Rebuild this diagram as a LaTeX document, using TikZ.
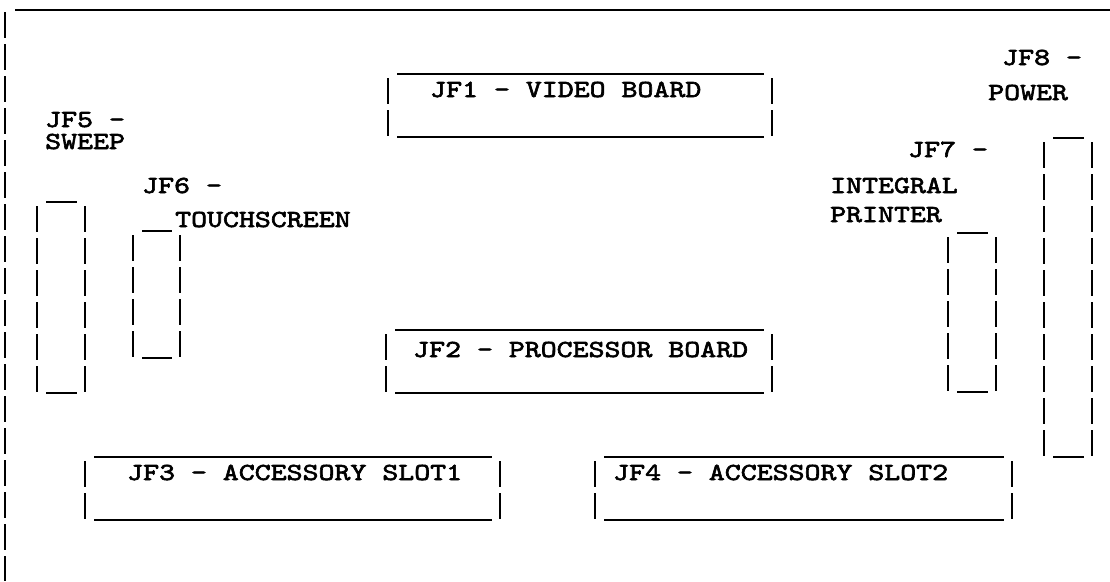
\documentclass[tikz,border=0pt]{standalone}
\usepackage{fontspec}
\newfontfamily\jffont{lmmono10-regular.otf}[FakeStretch=1.24,FakeBold=2.5]

\tikzset{
  trazo/.style={line width=2.6pt},
  patas/.style={line width=2.6pt, dash pattern=on 26pt off 6pt},
  rotulo/.style={anchor=base west, inner sep=0pt, font=\jffont\fontsize{24.5}{28}\selectfont},
}

\begin{document}
\begin{tikzpicture}[x=1pt,y=-1pt]
  \useasboundingbox (0,0) rectangle (1110,581);

  % Borde de la placa
  \draw[trazo] (15,10) -- (1110,10);
  \draw[patas] (5,12) -- (5,581);

  % Conectores: x izq / x der / y sup / filas
  \foreach \xa/\xb/\ya/\n in {388/772/74/2, 386/772/330/2, 85/500/457/2, 595/1012/457/2,
                              37/85/202/6, 133/180/231/4, 948/996/233/5, 1044/1092/138/10}{
    \pgfmathsetmacro\yb{\ya+\n*32-1}
    \draw[patas] (\xa,\ya+4) -- (\xa,\yb-1);
    \draw[patas] (\xb,\ya+4) -- (\xb,\yb-1);
    \draw[trazo] (\xa+9,\ya) -- (\xb-8,\ya);
    \draw[trazo] (\xa+9,\yb) -- (\xb-8,\yb);
  }

  % Rotulos
  \node[rotulo] (jf1) at (430,97) {JF1 - VIDEO BOARD};
  \node[rotulo] (jf2) at (413,357) {JF2 - PROCESSOR BOARD};
  \node[rotulo] (jf3) at (127,480) {JF3 - ACCESSORY SLOT1};
  \node[rotulo] (jf4) at (613,480) {JF4 - ACCESSORY SLOT2};
  \node[rotulo] (jf5) at (45,127) {JF5 -};
  \node[rotulo] (sweep) at (45,149) {SWEEP};
  \node[rotulo] (jf6) at (142,193) {JF6 -};
  \node[rotulo] (touch) at (175,227) {TOUCHSCREEN};
  \node[rotulo] (jf7) at (908,157) {JF7 -};
  \node[rotulo] (integral) at (830,193) {INTEGRAL};
  \node[rotulo] (printer) at (830,222) {PRINTER};
  \node[rotulo] (jf8) at (1002,65) {JF8 -};
  \node[rotulo] (power) at (988,100) {POWER};
\end{tikzpicture}
\end{document}
